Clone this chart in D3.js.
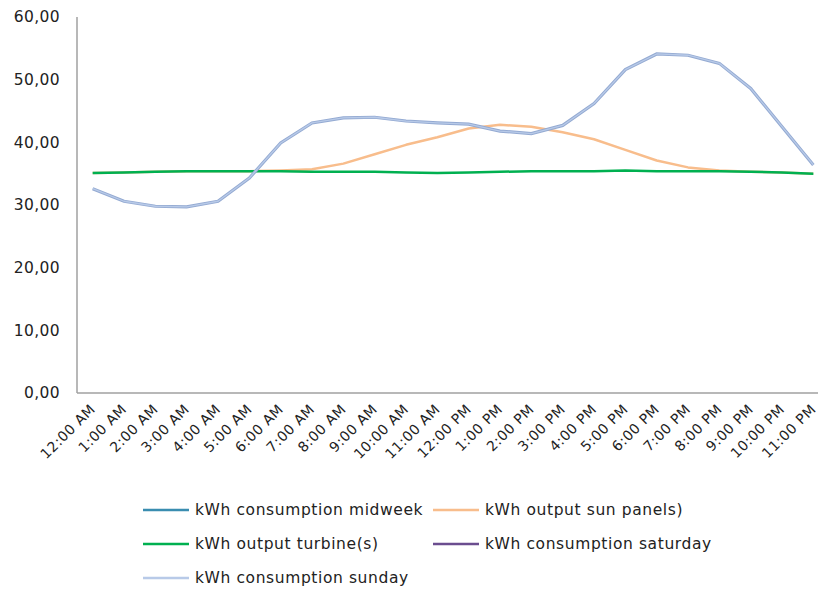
<!DOCTYPE html>
<html>
<head>
<meta charset="utf-8">
<script src="https://cdn.jsdelivr.net/npm/d3@7"></script>
<style>
  body { margin: 0; background: #fff; }
  text { font-family: "DejaVu Sans", Verdana, sans-serif; fill: #222; }
</style>
</head>
<body>
<div id="chart"></div>
<script>
// hours on the x axis
var hours = ['12:00 AM', '1:00 AM', '2:00 AM', '3:00 AM', '4:00 AM', '5:00 AM', '6:00 AM',
    '7:00 AM', '8:00 AM', '9:00 AM', '10:00 AM', '11:00 AM', '12:00 PM', '1:00 PM',
    '2:00 PM', '3:00 PM', '4:00 PM', '5:00 PM', '6:00 PM', '7:00 PM', '8:00 PM',
    '9:00 PM', '10:00 PM', '11:00 PM'];

var yTicks = [0, 10, 20, 30, 40, 50, 60];

// series values (kWh)
var midweek = [];
var saturday = [];
var sunPanels = [35.1, 35.2, 35.3, 35.4, 35.4, 35.4, 35.5, 35.7, 36.6, 38.1, 39.6, 40.8,
    42.2, 42.8, 42.5, 41.6, 40.5, 38.8, 37.1, 36.0, 35.5, 35.3, 35.2, 35.0];
var turbine = [35.1, 35.2, 35.3, 35.4, 35.4, 35.4, 35.4, 35.3, 35.3, 35.3, 35.2, 35.1,
    35.2, 35.3, 35.4, 35.4, 35.4, 35.5, 35.4, 35.4, 35.4, 35.3, 35.2, 35.0];
var sunday = [32.6, 30.6, 29.8, 29.7, 30.6, 34.3, 39.9, 43.1, 43.9, 44.0, 43.4, 43.1,
    42.9, 41.8, 41.4, 42.7, 46.2, 51.6, 54.1, 53.9, 52.6, 48.6, 42.5, 36.4];

var seriesNames = ['kWh consumption midweek', 'kWh output sun panels)', 'kWh output turbine(s)',
    'kWh consumption saturday', 'kWh consumption sunday'];
var seriesColors = ['#3a8db0', '#f8bd8c', '#00b050', '#6b4d8f', '#b8cae8'];

var svgWidth = 818;
var svgHeight = 591;

var margins = { top: 17, right: -11, bottom: 198, left: 77 };
var chartWidth = svgWidth - margins.left - margins.right;
var chartHeight = svgHeight - margins.top - margins.bottom;

var svg = d3.select('#chart')
    .append('svg')
    .attr('width', svgWidth)
    .attr('height', svgHeight);

var chartGroup = svg.append('g')
    .attr('transform', `translate(${margins.left}, ${margins.top})`);

var xScale = d3.scalePoint()
    .domain(hours)
    .range([0, chartWidth])
    .padding(0.5);

var yScale = d3.scaleLinear()
    .domain([0, 60])
    .range([chartHeight, 0]);

// y axis labels
var leftAxis = d3.axisLeft(yScale)
    .tickValues(yTicks)
    .tickSize(0)
    .tickPadding(17)
    .tickFormat(d => d3.format('.2f')(d).replace('.', ','));

var yAxis = chartGroup.append('g').call(leftAxis);
yAxis.select('.domain').remove();
yAxis.selectAll('text')
    .style('font-size', '15.5px')
    .style('letter-spacing', '0.4px')
    .attr('fill', '#222');

// x axis labels
var bottomAxis = d3.axisBottom(xScale).tickSize(0);
var xAxis = chartGroup.append('g')
    .attr('transform', `translate(0, ${chartHeight})`)
    .call(bottomAxis);
xAxis.select('.domain').remove();
xAxis.selectAll('text')
    .style('font-size', '14px')
    .style('letter-spacing', '0.5px')
    .attr('fill', '#222')
    .attr('text-anchor', 'end')
    .attr('y', 0)
    .attr('dy', 0)
    .attr('transform', 'translate(3, 17) rotate(-45)');

// axis lines
chartGroup.append('line')
    .attr('x1', 0).attr('x2', 0)
    .attr('y1', 0).attr('y2', chartHeight)
    .attr('stroke', '#a0a0a0')
    .attr('stroke-width', 1.5);

chartGroup.append('line')
    .attr('x1', 0).attr('x2', chartWidth)
    .attr('y1', chartHeight).attr('y2', chartHeight)
    .attr('stroke', '#a0a0a0')
    .attr('stroke-width', 1.5);

var line = d3.line()
    .x((d, i) => xScale(hours[i]))
    .y(d => yScale(d));

var allSeries = [midweek, sunPanels, turbine, saturday, sunday];

allSeries.forEach((values, i) => {
    if (!values.length) return;
    if (i === 4) {
        // darker edge under the sunday line
        chartGroup.append('path')
            .datum(values)
            .attr('fill', 'none')
            .attr('stroke', '#94aad2')
            .attr('stroke-width', 3.2)
            .attr('d', line);
    }
    chartGroup.append('path')
        .datum(values)
        .attr('fill', 'none')
        .attr('stroke', seriesColors[i])
        .attr('stroke-width', i === 4 ? 1.3 : 2.5)
        .attr('stroke-linejoin', 'round')
        .attr('d', line);
});

// legend
var legendPos = [[143, 510], [433, 510], [143, 544], [433, 544], [143, 578]];
var legend = svg.append('g');
seriesNames.forEach((name, i) => {
    var g = legend.append('g')
        .attr('transform', `translate(${legendPos[i][0]}, ${legendPos[i][1]})`);
    g.append('line')
        .attr('x1', 0).attr('x2', 46)
        .attr('y1', 0).attr('y2', 0)
        .attr('stroke', seriesColors[i])
        .attr('stroke-width', 2.5);
    g.append('text')
        .attr('x', 52)
        .attr('y', 0)
        .attr('dy', '0.35em')
        .style('font-size', '15.5px')
        .style('letter-spacing', '0.6px')
        .attr('fill', '#222')
        .text(name);
});
</script>
</body>
</html>
